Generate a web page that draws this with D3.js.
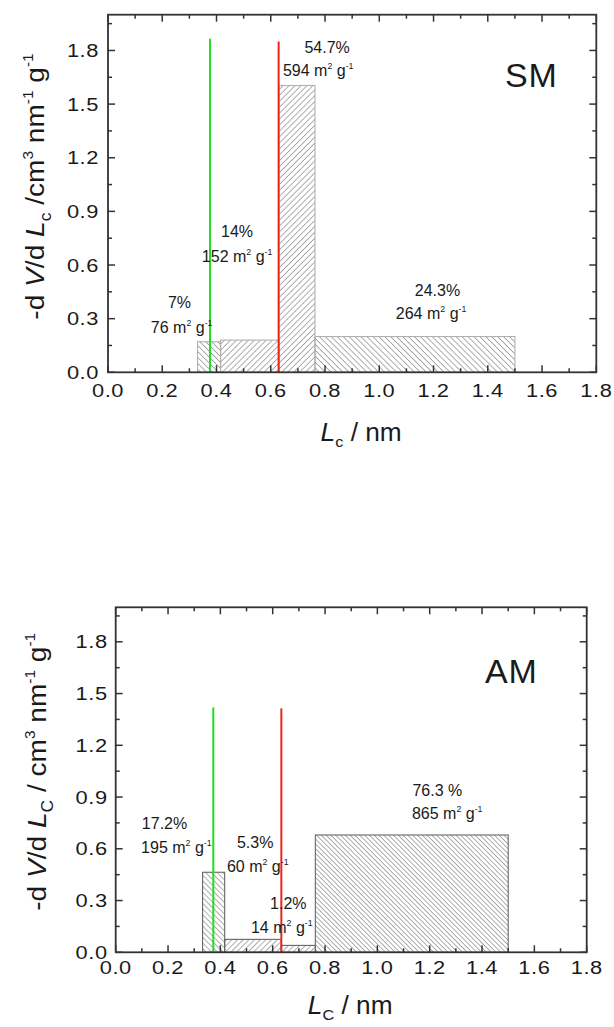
<!DOCTYPE html>
<html><head><meta charset="utf-8">
<script src="https://cdn.jsdelivr.net/npm/d3@7"></script>
<style>
body{margin:0;background:#fff}
svg{display:block}
text{font-family:"Liberation Sans",Arial,sans-serif;fill:#1a1a1a}
</style>
</head><body>
<svg id="c" width="614" height="1027"></svg>
<script>
// ---------- data ----------
const xTickValues = [0, 0.2, 0.4, 0.6, 0.8, 1.0, 1.2, 1.4, 1.6, 1.8];
const xTickLabels = ["0.0","0.2","0.4","0.6","0.8","1.0","1.2","1.4","1.6","1.8"];
const yTickValues = [0, 0.3, 0.6, 0.9, 1.2, 1.5, 1.8];
const yTickLabels = ["0.0","0.3","0.6","0.9","1.2","1.5","1.8"];

// SM sample: pore-width bins (nm) and -dV/dLc values
const smEdges  = [0.33, 0.415, 0.63, 0.763, 1.5];
const smValues = [0.171, 0.18, 1.604, 0.2];
const smPercent = ["7%", "14%", "54.7%", "24.3%"];
const smArea    = ["76", "152", "594", "264"];
const smLineX   = [0.376, 0.629];
const smLineTop = [1.865, 1.85];

// AM sample
const amEdges  = [0.332, 0.4165, 0.633, 0.763, 1.5];
const amValues = [0.464, 0.075, 0.04, 0.68];
const amPercent = ["17.2%", "5.3%", "1.2%", "76.3 %"];
const amArea    = ["195", "60", "14", "865"];
const amLineX   = [0.373, 0.633];
const amLineTop = [1.42, 1.414];

// ---------- layout / style ----------
const lineColors = ["#22dd22", "#e8261c"];
const panels = [
  {name:"SM", sub:"c", slashSpace:"", edges:smEdges, values:smValues, pct:smPercent, area:smArea,
   lineX:smLineX, lineTop:smLineTop,
   box:{left:108, right:596.3, top:14.7, bottom:372.3},
   hatch:["back","fwd","fwd","back"], hatchGap:[4.2,4.2,4.2,4.2], barStroke:"#b0b0b0",
   labels:[[0.221,0.36,0.158,0.22],[0.4165,0.757,0.346,0.617],[0.724,1.787,0.645,1.658],[1.131,0.427,1.061,0.298]],
   namePos:[1.463,1.597], xTitleY:441, xTitleDx:9, yTitleX:44, yTitleDy:-7, tickLabelDy:25, yLabelGap:9},
  {name:"AM", sub:"C", slashSpace:" ", edges:amEdges, values:amValues, pct:amPercent, area:amArea,
   lineX:amLineX, lineTop:amLineTop,
   box:{left:115.7, right:586.7, top:607.3, bottom:952.3},
   hatch:["back","fwd","fwd","back"], hatchGap:[4.0,4.0,4.0,3.4], barStroke:"#666",
   labels:[[0.1,0.716,0.097,0.576],[0.4635,0.605,0.425,0.465],[0.59,0.251,0.517,0.112],[1.134,0.906,1.132,0.773]],
   namePos:[1.411,1.561], xTitleY:1014, xTitleDx:-1, yTitleX:46, yTitleDy:-8, tickLabelDy:22, yLabelGap:8}
];

const svg = d3.select("#c");
const defs = svg.append("defs");

function hatchId(kind, gap){
  const id = "h-" + kind + "-" + String(gap).replace(".","_");
  if (!document.getElementById(id)) {
    const p = defs.append("pattern").attr("id", id)
      .attr("patternUnits","userSpaceOnUse").attr("width", gap).attr("height", gap)
      .attr("patternTransform", "rotate(" + (kind === "fwd" ? 45 : -45) + ")");
    p.append("line").attr("x1",0).attr("y1",-1).attr("x2",0).attr("y2",gap+1)
      .attr("stroke","#4a4a4a").attr("stroke-width",0.9);
  }
  return "url(#" + id + ")";
}

function richText(sel, parts, size){
  let shift = 0;
  parts.forEach(([t, mode]) => {
    const ts = sel.append("tspan").text(t);
    let target = 0;
    if (mode === "sup") { ts.attr("font-size", size*0.55); target = -size*0.42; }
    else if (mode === "sub") { ts.attr("font-size", size*0.62); target = size*0.25; }
    else ts.attr("font-size", size);
    if (mode === "i") ts.attr("font-style","italic");
    if (target !== shift) { ts.attr("dy", target - shift); shift = target; }
  });
}

const SX = 1.15; // horizontal stretch of the tick label glyphs

panels.forEach(P => {
  const B = P.box;
  const x = d3.scaleLinear().domain([0, 1.8]).range([B.left, B.right]);
  const y = d3.scaleLinear().domain([0, 2.0]).range([B.bottom, B.top]);
  const g = svg.append("g");

  const bins = P.values.map((v,i) => ({x0:P.edges[i], x1:P.edges[i+1], v, i}));
  g.selectAll("rect.bar").data(bins).join("rect").attr("class","bar")
    .attr("x", d => x(d.x0)).attr("width", d => x(d.x1) - x(d.x0))
    .attr("y", d => y(d.v)).attr("height", d => y(0) - y(d.v))
    .attr("fill", d => hatchId(P.hatch[d.i], P.hatchGap[d.i]))
    .attr("stroke", P.barStroke).attr("stroke-width", 1.1);

  g.selectAll("line.mark").data(P.lineX).join("line").attr("class","mark")
    .attr("x1", d => x(d)).attr("x2", d => x(d))
    .attr("y1", y(0)).attr("y2", (d,i) => y(P.lineTop[i]))
    .attr("stroke", (d,i) => lineColors[i]).attr("stroke-width", 2);

  const xMinor = d3.range(0, 1.81, 0.1).filter(v => Math.abs(v*5 - Math.round(v*5)) > 1e-6);
  const yMinor = d3.range(0.15, 2.0, 0.3);
  const ax = g.append("g").attr("stroke","#333").attr("stroke-width",1.5);
  xTickValues.forEach(v => {
    ax.append("line").attr("x1",x(v)).attr("x2",x(v)).attr("y1",B.bottom).attr("y2",B.bottom-7);
    ax.append("line").attr("x1",x(v)).attr("x2",x(v)).attr("y1",B.top).attr("y2",B.top+7);
  });
  xMinor.forEach(v => {
    ax.append("line").attr("x1",x(v)).attr("x2",x(v)).attr("y1",B.bottom).attr("y2",B.bottom-4);
    ax.append("line").attr("x1",x(v)).attr("x2",x(v)).attr("y1",B.top).attr("y2",B.top+4);
  });
  yTickValues.forEach(v => {
    ax.append("line").attr("y1",y(v)).attr("y2",y(v)).attr("x1",B.left).attr("x2",B.left+7);
    ax.append("line").attr("y1",y(v)).attr("y2",y(v)).attr("x1",B.right).attr("x2",B.right-7);
  });
  yMinor.forEach(v => {
    ax.append("line").attr("y1",y(v)).attr("y2",y(v)).attr("x1",B.left).attr("x2",B.left+4);
    ax.append("line").attr("y1",y(v)).attr("y2",y(v)).attr("x1",B.right).attr("x2",B.right-4);
  });
  g.append("rect").attr("x",B.left).attr("y",B.top).attr("width",B.right-B.left).attr("height",B.bottom-B.top)
    .attr("fill","none").attr("stroke","#333").attr("stroke-width",1.8);

  g.selectAll("text.xt").data(xTickValues).join("text").attr("class","xt")
    .attr("transform", d => "translate(" + x(d) + "," + (B.bottom + P.tickLabelDy) + ") scale(" + SX + ",1)")
    .attr("text-anchor","middle").attr("font-size",19).attr("letter-spacing",0.5)
    .text((d,i) => xTickLabels[i]);
  g.selectAll("text.yt").data(yTickValues).join("text").attr("class","yt")
    .attr("transform", d => "translate(" + (B.left - P.yLabelGap) + "," + (y(d) + 6.5) + ") scale(" + SX + ",1)")
    .attr("text-anchor","end").attr("font-size",19).attr("letter-spacing",0.5)
    .text((d,i) => yTickLabels[i]);

  P.labels.forEach((L, i) => {
    g.append("text").attr("x", x(L[0])).attr("y", y(L[1])).attr("font-size",16).text(P.pct[i]);
    const t = g.append("text").attr("x", x(L[2])).attr("y", y(L[3]));
    richText(t, [[P.area[i] + " m","n"],["2","sup"],[" g","n"],["-1","sup"]], 16);
  });

  g.append("text").attr("x", x(P.namePos[0])).attr("y", y(P.namePos[1]))
    .attr("font-size",34).attr("letter-spacing",1).text(P.name);

  const xt = g.append("text")
    .attr("transform","translate(" + ((B.left+B.right)/2 + P.xTitleDx) + "," + P.xTitleY + ") scale(1.05,1)")
    .attr("text-anchor","middle");
  richText(xt, [["L","i"],[P.sub,"sub"],[" / nm","n"]], 25);

  const yt = g.append("text")
    .attr("transform","translate(" + P.yTitleX + "," + ((B.top+B.bottom)/2 + P.yTitleDy) + ") rotate(-90) scale(1.08,1)")
    .attr("text-anchor","middle");
  richText(yt, [["-d ","n"],["V","i"],["/d ","n"],["L","i"],[P.sub,"sub"],[" /" + P.slashSpace + "cm","n"],["3","sup"],[" nm","n"],["-1","sup"],[" g","n"],["-1","sup"]], 26);
});
</script>
</body></html>
